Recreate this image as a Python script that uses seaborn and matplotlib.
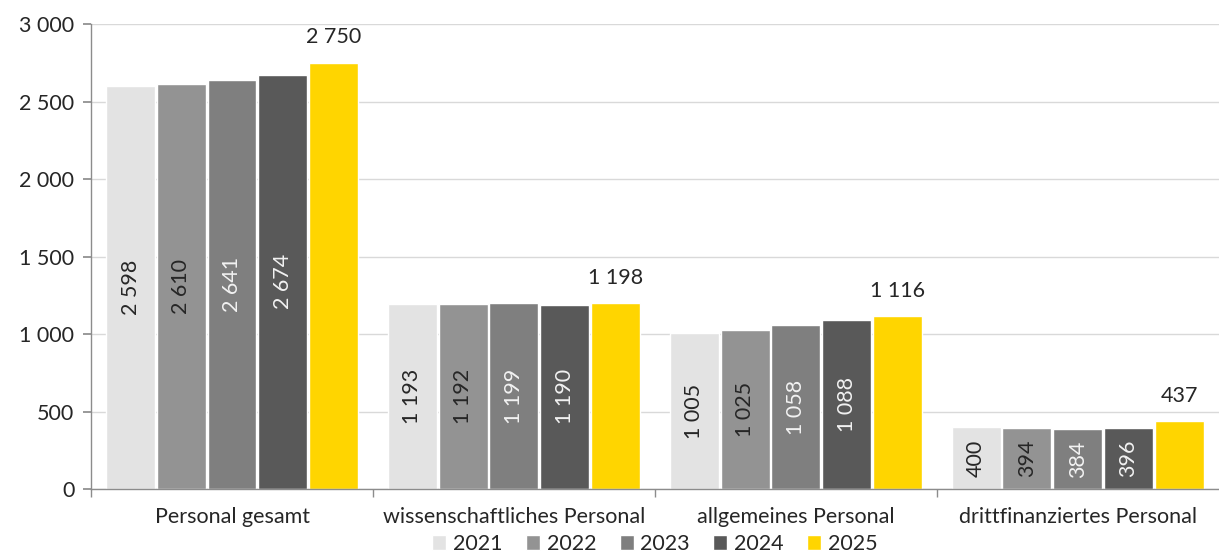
import matplotlib
matplotlib.use("Agg")
import matplotlib.pyplot as plt
import seaborn as sns
import pandas as pd
from matplotlib.ticker import FuncFormatter, FixedLocator

categories = ["Personal gesamt", "wissenschaftliches Personal", "allgemeines Personal", "drittfinanziertes Personal"]
years = ["2021", "2022", "2023", "2024", "2025"]
v2021 = [2598, 1193, 1005, 400]
v2022 = [2610, 1192, 1025, 394]
v2023 = [2641, 1199, 1058, 384]
v2024 = [2674, 1190, 1088, 396]
v2025 = [2750, 1198, 1116, 437]
colors = ["#e3e3e3", "#939393", "#7f7f7f", "#595959", "#ffd500"]
label_colors = ["#262626", "#262626", "#f2f2f2", "#f2f2f2", "#262626"]

series = [v2021, v2022, v2023, v2024, v2025]
rows = []
for y, vals in zip(years, series):
    for c, v in zip(categories, vals):
        rows.append({"Kategorie": c, "Jahr": y, "Wert": v})
df = pd.DataFrame(rows)

sns.set_theme(style="white")
plt.rcParams["font.family"] = ["Lato", "DejaVu Sans"]

FS = 15.5
fig = plt.figure(figsize=(12.19, 5.56), dpi=100)
ax = fig.add_axes([0.0747, 0.1205, 0.925, 0.8363])

sns.barplot(data=df, x="Kategorie", y="Wert", hue="Jahr", order=categories, hue_order=years,
            palette=colors, width=0.9, gap=0.035, saturation=1, ax=ax, legend=True, errorbar=None)

def fmt(v):
    return f"{int(round(v)):,}".replace(",", " ")

for i, cont in enumerate(ax.containers):
    labels = [fmt(b.get_height()) for b in cont]
    if i == 4:
        ax.bar_label(cont, labels=labels, padding=11, fontsize=FS, color="#262626")
    else:
        ax.bar_label(cont, labels=labels, label_type="center", rotation=90,
                     fontsize=FS, color=label_colors[i])

ax.set_ylim(0, 3000)
ax.set_xlim(-0.5, 3.5)
ax.set_yticks(range(0, 3001, 500))
ax.yaxis.set_major_formatter(FuncFormatter(lambda v, p: fmt(v)))
ax.grid(axis="y", color="#d9d9d9", linewidth=1)
ax.set_axisbelow(True)
ax.set_xlabel("")
ax.set_ylabel("")

for s in ["top", "right"]:
    ax.spines[s].set_visible(False)
for s in ["left", "bottom"]:
    ax.spines[s].set_color("#8c8c8c")
    ax.spines[s].set_linewidth(1)

ax.tick_params(axis="y", which="major", length=6, color="#8c8c8c", labelsize=FS, labelcolor="#262626", pad=6, left=True)
ax.tick_params(axis="x", which="major", length=0, labelsize=FS, labelcolor="#262626", pad=13)
ax.xaxis.set_minor_locator(FixedLocator([-0.5, 0.5, 1.5, 2.5]))
ax.tick_params(axis="x", which="minor", length=6, color="#8c8c8c", bottom=True)

handles, labs = ax.get_legend_handles_labels()
ax.legend(handles, labs, loc="upper center", bbox_to_anchor=(0.5, -0.074), ncol=5, frameon=False,
          fontsize=FS, handlelength=0.65, handleheight=0.65, handletextpad=0.3, columnspacing=1.1,
          borderpad=0, labelcolor="#262626")

fig.savefig("out.png", dpi=100)
